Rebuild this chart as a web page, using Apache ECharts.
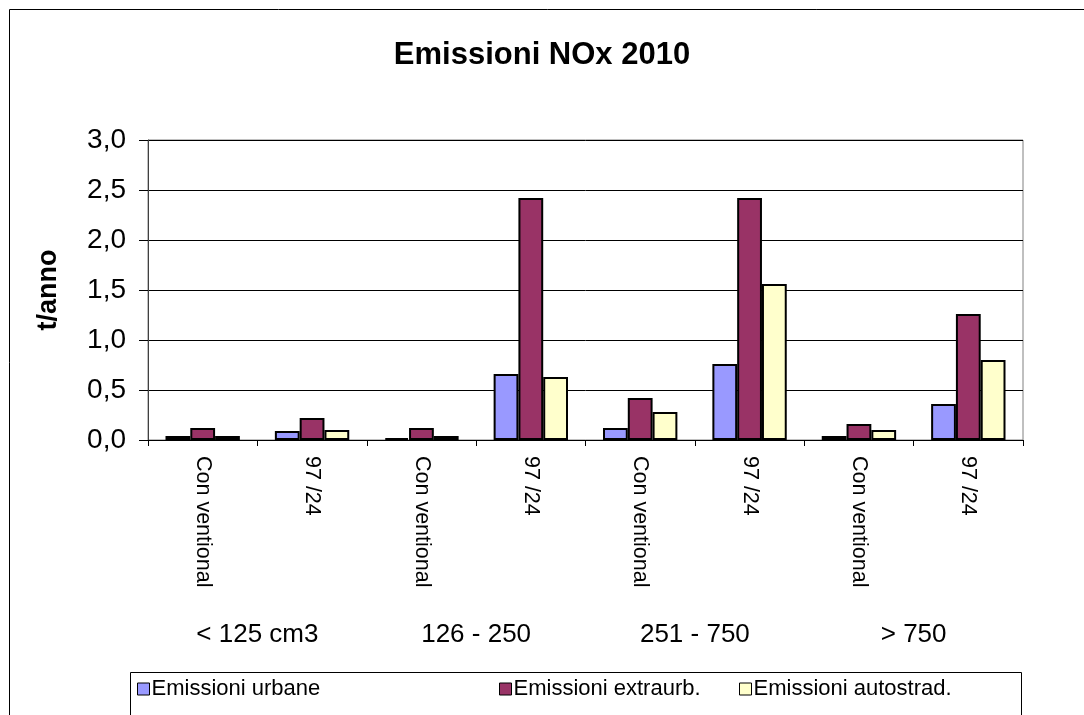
<!DOCTYPE html>
<html>
<head>
<meta charset="utf-8">
<script src="https://cdn.jsdelivr.net/npm/echarts@6/dist/echarts.min.js"></script>
<style>
html,body{margin:0;padding:0;background:#fff;}
#c{width:1084px;height:715px;}
</style>
</head>
<body>
<div id="c"></div>
<script>
const categories = ['Con ventional','97 /24','Con ventional','97 /24','Con ventional','97 /24','Con ventional','97 /24'];
const groups = ['< 125 cm3','126 - 250','251 - 750','> 750'];
const seriesNames = ['Emissioni urbane','Emissioni extraurb.','Emissioni autostrad.'];
const urbane =    [0.04, 0.09, 0.02, 0.66, 0.12, 0.76, 0.04, 0.36];
const extraurb =  [0.12, 0.22, 0.12, 2.42, 0.42, 2.42, 0.16, 1.26];
const autostrad = [0.04, 0.10, 0.04, 0.63, 0.28, 1.56, 0.10, 0.80];
const yTicks = [0, 0.5, 1.0, 1.5, 2.0, 2.5, 3.0];

const colors = ['#9999FF','#993366','#FFFFCC'];
const FONT = 'Liberation Sans, Arial, sans-serif';
const chart = echarts.init(document.getElementById('c'), null, {renderer:'canvas'});

const values = [urbane, extraurb, autostrad];
const legendLefts = [137, 499, 739];

chart.setOption({
  animation: false,
  backgroundColor: '#fff',
  title: {
    text: 'Emissioni NOx 2010',
    left: 'center', top: 35,
    textStyle: {fontFamily: FONT, fontWeight: 'bold', fontSize: 31, color: '#000'}
  },
  legend: seriesNames.map((n, i) => ({
    data: [n],
    left: legendLefts[i], top: 678, padding: 0,
    icon: 'rect', itemWidth: 12, itemHeight: 12, itemGap: 4,
    itemStyle: {borderColor: '#000', borderWidth: 1},
    textStyle: {fontFamily: FONT, fontSize: 22, color: '#000', padding: [0,0,0,-3]}
  })),
  grid: {left: 148, right: 61, top: 140, bottom: 275, show: true, borderColor: '#808080', borderWidth: 1},
  xAxis: [
    {
      type: 'category', data: categories, position: 'bottom',
      axisLine: {lineStyle: {color: '#000', width: 1}},
      axisTick: {show: true, length: 6, lineStyle: {color: '#000'}},
      axisLabel: {rotate: -90, margin: 16, fontFamily: FONT, fontSize: 21.5, color: '#000', interval: 0}
    },
    {
      type: 'category', data: groups, position: 'bottom',
      axisLine: {show: false}, axisTick: {show: false},
      axisLabel: {margin: 182, fontFamily: FONT, fontSize: 26, color: '#000', interval: 0}
    }
  ],
  yAxis: {
    type: 'value', min: 0, max: 3, interval: 0.5,
    name: 't/anno', nameLocation: 'middle', nameGap: 86, nameRotate: 90,
    nameTextStyle: {fontFamily: FONT, fontWeight: 'bold', fontSize: 27, color: '#000'},
    axisLine: {show: true, lineStyle: {color: '#404040', width: 1}},
    axisTick: {show: true, length: 9, lineStyle: {color: '#000'}},
    axisLabel: {margin: 22, fontFamily: FONT, fontSize: 28, color: '#000',
      formatter: v => v.toFixed(1).replace('.', ',')},
    splitLine: {show: true, lineStyle: {color: '#000', width: 1}}
  },
  series: seriesNames.map((n, i) => ({
    name: n, type: 'bar', xAxisIndex: 0, data: values[i],
    barGap: '0%', barCategoryGap: '32%',
    itemStyle: {color: colors[i], borderColor: '#000', borderWidth: 2}
  })),
  graphic: [
    {type: 'rect', shape: {x: 9.5, y: 9.5, width: 1200, height: 800}, style: {fill: 'none', stroke: '#000', lineWidth: 1}, silent: true, z: -1},
    {type: 'rect', shape: {x: 130.5, y: 672.5, width: 891, height: 100}, style: {fill: 'none', stroke: '#000', lineWidth: 1}, silent: true, z: -1}
  ]
});
</script>
</body>
</html>
